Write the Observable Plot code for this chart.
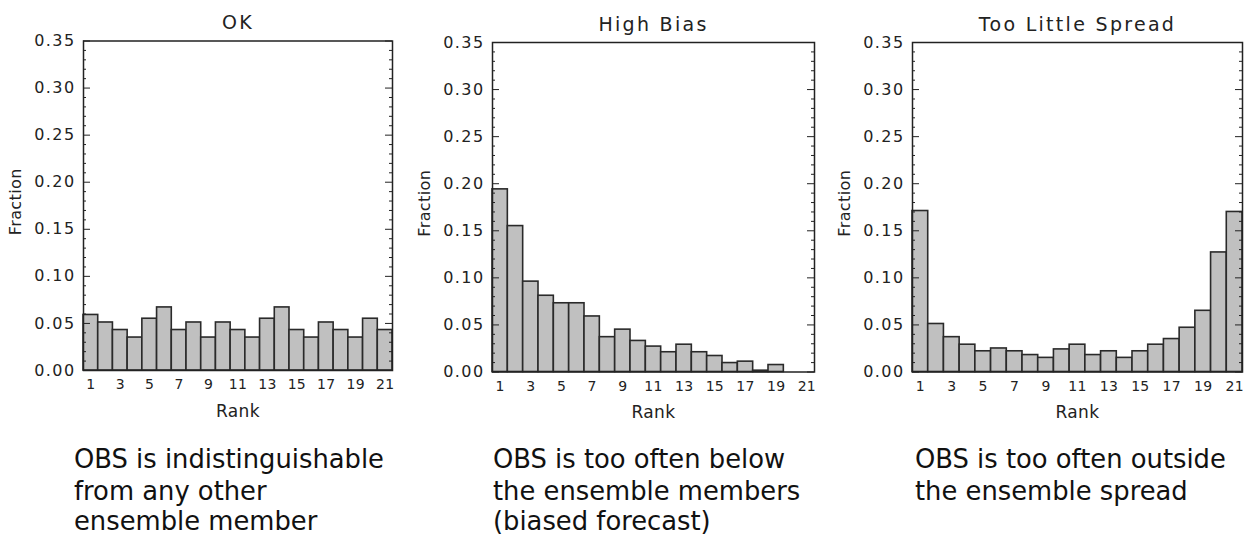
<!DOCTYPE html>
<html>
<head>
<meta charset="utf-8">
<script src="https://cdn.jsdelivr.net/npm/d3@7"></script>
<script src="https://cdn.jsdelivr.net/npm/@observablehq/plot@0.6"></script>
<style>
  html, body { margin: 0; padding: 0; background: #fff; }
  #root { position: relative; width: 1248px; height: 536px; overflow: hidden; font-family: "DejaVu Sans", sans-serif; }
  .panel { position: absolute; top: 0; }
  .caption { position: absolute; font-family: "DejaVu Sans", sans-serif; font-size: 25.8px; line-height: 1; color: #111; white-space: nowrap; }
  g[aria-label="y-axis tick label"] text { letter-spacing: 1.4px; }
  g[aria-label="x-axis tick label"] text { letter-spacing: 0.3px; }
</style>
</head>
<body>
<div id="root"></div>
<script>
// ---- data ----
const ranks = [1,2,3,4,5,6,7,8,9,10,11,12,13,14,15,16,17,18,19,20,21];
const okValues = [0.059,0.051,0.043,0.035,0.055,0.067,0.043,0.051,0.035,0.051,0.043,0.035,0.055,0.067,0.043,0.035,0.051,0.043,0.035,0.055,0.043];
const biasValues = [0.194,0.155,0.096,0.081,0.073,0.073,0.059,0.037,0.045,0.033,0.027,0.021,0.029,0.021,0.017,0.0095,0.011,0.0014,0.0074,0,0];
const spreadValues = [0.171,0.051,0.037,0.029,0.022,0.025,0.022,0.018,0.015,0.024,0.029,0.018,0.022,0.015,0.022,0.029,0.035,0.047,0.065,0.127,0.170];
const titles = ["OK", "High Bias", "Too Little Spread"];
const captions = [
  ["OBS is indistinguishable", "from any other", "ensemble member"],
  ["OBS is too often below", "the ensemble members", "(biased forecast)"],
  ["OBS is too often outside", "the ensemble spread"]
];
const xTickLabels = [1,3,5,7,9,11,13,15,17,19,21];
const yTickLabels = [0,0.05,0.10,0.15,0.20,0.25,0.30,0.35];
const yMinorTicks = d3.range(0, 0.3501, 0.01).filter(v => Math.abs(Math.round(v*100) % 5) !== 0);

// ---- layout ----
const panels = [
  {values: okValues, left: 0, frameW: 309, top: 40.5, captionX: 74},
  {values: biasValues, left: 409, frameW: 322, top: 42, captionX: 493},
  {values: spreadValues, left: 829, frameW: 330, top: 42, captionX: 915}
];
const captionBaselines = [468.5, 500.5, 531];
const frameH = 329.5;
const ink = "#222";
const root = document.getElementById("root");

panels.forEach((p, i) => {
  const data = ranks.map((r, j) => ({rank: r, value: p.values[j]}));
  const mL = 83, mR = 6, mB = 64;
  const chart = Plot.plot({
    width: mL + p.frameW + mR,
    height: p.top + frameH + mB,
    marginLeft: mL, marginRight: mR, marginTop: p.top, marginBottom: mB,
    style: {fontFamily: "DejaVu Sans, sans-serif", color: ink, background: "transparent", overflow: "visible"},
    x: {domain: [0.5, 21.5]},
    y: {domain: [0, 0.35]},
    marks: [
      Plot.rectY(data, {x1: d => d.rank - 0.5, x2: d => d.rank + 0.5, y: "value", fill: "#c0c0c0", stroke: "#2a2a2a", strokeWidth: 1.6}),
      // inward major ticks left/right
      Plot.ruleY(yTickLabels, {y: d => d, insetRight: p.frameW - 7, stroke: ink, strokeWidth: 1}),
      Plot.ruleY(yTickLabels, {y: d => d, insetLeft: p.frameW - 7, stroke: ink, strokeWidth: 1}),
      // inward minor ticks
      Plot.ruleY(yMinorTicks, {y: d => d, insetRight: p.frameW - 3, stroke: ink, strokeWidth: 1}),
      Plot.ruleY(yMinorTicks, {y: d => d, insetLeft: p.frameW - 3, stroke: ink, strokeWidth: 1}),
      Plot.frame({stroke: ink, strokeWidth: 1.5}),
      Plot.axisY({ticks: yTickLabels, tickSize: 0, tickPadding: 8, tickFormat: d3.format(".2f"), label: null, fontSize: 16}),
      Plot.axisX({ticks: xTickLabels, tickSize: 0, tickPadding: 9, tickFormat: d => String(d), label: null, fontSize: 14}),
      Plot.text([titles[i]], {frameAnchor: "top", lineAnchor: "middle", textAnchor: "middle", dy: -18, fontSize: 19, fill: ink}),
      Plot.text(["Rank"], {frameAnchor: "bottom", lineAnchor: "middle", textAnchor: "middle", dy: 41, fontSize: 17, fill: ink}),
      Plot.text(["Fraction"], {frameAnchor: "left", lineAnchor: "middle", textAnchor: "middle", dx: -68, dy: -4, rotate: -90, fontSize: 16, fill: ink})
    ]
  });
  chart.classList.add("panel");
  chart.style.left = p.left + "px";
  // letter spacing to mimic the original wide-set plotting font
  chart.querySelectorAll("text").forEach(t => {
    if (t.textContent === titles[i]) t.style.letterSpacing = "2.3px";
    else if (t.textContent === "Rank" || t.textContent === "Fraction") t.style.letterSpacing = "0.4px";
  });
  root.appendChild(chart);

  captions[i].forEach((line, k) => {
    const cap = document.createElement("div");
    cap.className = "caption";
    cap.style.left = p.captionX + "px";
    cap.style.top = (captionBaselines[k] - 0.846 * 25.8) + "px";
    cap.textContent = line;
    root.appendChild(cap);
  });
});
</script>
</body>
</html>
